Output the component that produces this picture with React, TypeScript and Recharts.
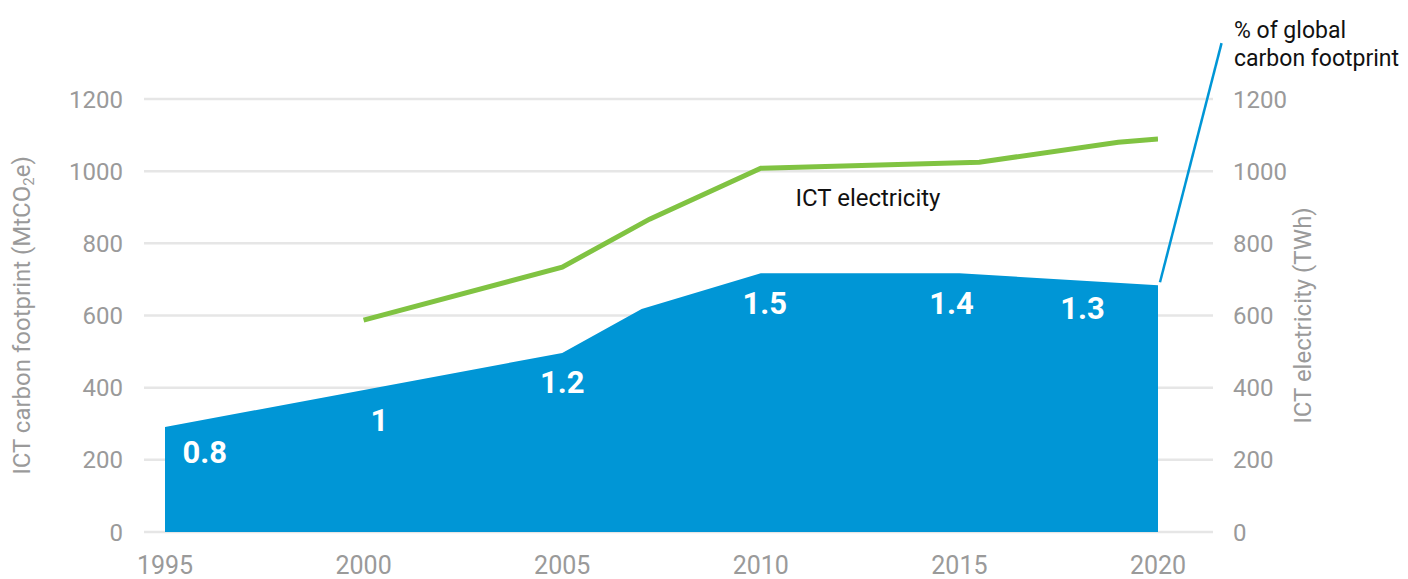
import React from "react";
import {
  ComposedChart,
  Area,
  Line,
  XAxis,
  YAxis,
  CartesianGrid,
  ReferenceDot,
  ReferenceLine,
  Customized,
} from "recharts";

const yearTicks = [1995, 2000, 2005, 2010, 2015, 2020];
const valueTicks = [0, 200, 400, 600, 800, 1000, 1200];

// ICT carbon footprint (MtCO2e)
const footprint = [
  { year: 1995, value: 291 },
  { year: 2005, value: 496 },
  { year: 2007, value: 618 },
  { year: 2010, value: 717 },
  { year: 2015, value: 717 },
  { year: 2020, value: 684 },
];

// ICT electricity (TWh)
const electricity = [
  { year: 2000, value: 587 },
  { year: 2005, value: 734 },
  { year: 2007.2, value: 867 },
  { year: 2010, value: 1008 },
  { year: 2015.5, value: 1025 },
  { year: 2019, value: 1080 },
  { year: 2020, value: 1089 },
];

// % of global carbon footprint, placed inside the area
const shareLabels = [
  { year: 1996, value: 222, text: "0.8" },
  { year: 2000.4, value: 310, text: "1" },
  { year: 2005, value: 415, text: "1.2" },
  { year: 2010.1, value: 634, text: "1.5" },
  { year: 2014.8, value: 634, text: "1.4" },
  { year: 2018.1, value: 620, text: "1.3" },
];

const pointer = [
  { x: 2020.05, y: 692 },
  { x: 2021.6, y: 1355 },
];

const BLUE = "#0096d6";
const GREEN = "#80c342";
const GREY = "#9a9a9a";
const FONT = "Roboto, sans-serif";

const LeftTitle = (props: any) => {
  const { viewBox } = props;
  const x = viewBox.x + 14;
  const y = viewBox.y + viewBox.height / 2;
  return (
    <text
      x={x}
      y={y}
      transform={`rotate(-90, ${x}, ${y})`}
      textAnchor="middle"
      dominantBaseline="central"
      fill={GREY}
      fontSize={24}
      fontFamily={FONT}
    >
      ICT carbon footprint (MtCO
      <tspan dy={7} fontSize={15}>2</tspan>
      <tspan dy={-7}>e)</tspan>
    </text>
  );
};

const Notes = () => (
  <g fontFamily={FONT}>
    <text x={860} y={190} textAnchor="middle" dominantBaseline="central" fontSize={24} fill="#111">
      ICT electricity
    </text>
    <text x={885} y={423} textAnchor="middle" dominantBaseline="central" fontSize={24} fill="#fff">
      ICT carbon footprint
    </text>
    <text x={1226} y={22} dominantBaseline="central" fontSize={23} fill="#111">
      % of global
    </text>
    <text x={1226} y={50} dominantBaseline="central" fontSize={23} fill="#111">
      carbon footprint
    </text>
  </g>
);

export default function App() {
  return (
    <ComposedChart
      width={1400}
      height={571}
      margin={{ top: 91, right: 0, bottom: 0, left: 0 }}
    >
      <CartesianGrid vertical={false} stroke="#e6e6e6" strokeWidth={2.5} yAxisId="left" />
      <XAxis
        dataKey="year"
        type="number"
        domain={[1995, 2020]}
        ticks={yearTicks}
        padding={{ left: 21, right: 55 }}
        axisLine={false}
        tickLine={false}
        tickMargin={18}
        height={47}
        tick={{ fill: GREY, fontSize: 25, fontFamily: FONT }}
        allowDataOverflow
      />
      <YAxis
        yAxisId="left"
        domain={[0, 1200]}
        ticks={valueTicks}
        width={136}
        axisLine={false}
        tickLine={false}
        tickMargin={15}
        tick={{ fill: GREY, fontSize: 24, fontFamily: FONT }}
        label={<LeftTitle />}
      />
      <YAxis
        yAxisId="right"
        orientation="right"
        domain={[0, 1200]}
        ticks={valueTicks}
        width={195}
        axisLine={false}
        tickLine={false}
        tickMargin={14}
        tick={{ fill: GREY, fontSize: 24, fontFamily: FONT, textAnchor: "start" }}
        label={{
          value: "ICT electricity (TWh)",
          angle: -90,
          position: "center",
          dx: -8,
          fill: GREY,
          fontSize: 24,
          fontFamily: FONT,
        }}
      />
      <Area
        yAxisId="left"
        data={footprint}
        dataKey="value"
        type="linear"
        fill={BLUE}
        fillOpacity={1}
        stroke="none"
        isAnimationActive={false}
      />
      <Line
        yAxisId="right"
        data={electricity}
        dataKey="value"
        type="linear"
        stroke={GREEN}
        strokeWidth={5}
        dot={false}
        activeDot={false}
        isAnimationActive={false}
      />
      {shareLabels.map((d) => (
        <ReferenceDot
          key={d.text}
          yAxisId="left"
          x={d.year}
          y={d.value}
          r={0}
          fill="none"
          stroke="none"
          label={{
            value: d.text,
            position: "center",
            fill: "#fff",
            fontSize: 31,
            fontWeight: 700,
            fontFamily: FONT,
          }}
        />
      ))}
      <ReferenceLine
        yAxisId="left"
        segment={pointer}
        stroke={BLUE}
        strokeWidth={2.5}
        ifOverflow="visible"
      />
      <Customized component={<Notes />} />
    </ComposedChart>
  );
}
